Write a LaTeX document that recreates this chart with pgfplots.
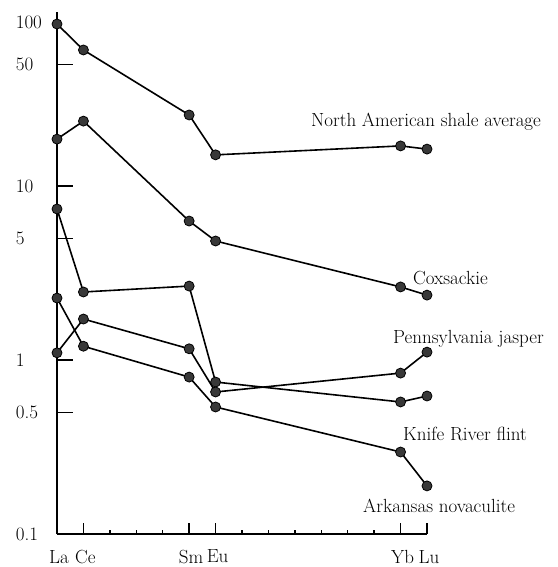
\documentclass[border=0pt]{standalone}
\usepackage{pgfplots}
\pgfplotsset{compat=1.18}
\newcommand{\lf}{\fontsize{19}{22}\selectfont}
\newcommand{\yl}[1]{\makebox[37.7pt][l]{#1}}
\begin{document}
\begin{tikzpicture}
% axis A: y ticks and labels (box mode, lines hidden)
\begin{axis}[
  at={(57pt,-534pt)}, anchor=south west,
  scale only axis, width=370pt, height=522pt,
  xmin=57, xmax=71, ymode=log, ymin=0.1, ymax=100,
  axis line style={draw=none},
  ytick pos=left, tick align=inside, clip=false,
  tick label style={font=\lf}, yminorticks=false,
  xtick=\empty,
  ytick={0.1,0.5,1,5,10,50},
  yticklabels={\yl{0.1},\yl{0.5},\yl{1},\yl{5},\yl{10},\yl{50}},
  extra y ticks={100},
  extra y tick labels={\yl{100}},
  extra y tick style={tick style={draw=none}, yticklabel style={yshift=-10pt}},
  major tick length=16pt,
  ytick style={line width=1.4pt, black},
  yticklabel style={inner sep=0pt, xshift=-3.3pt},
]
\end{axis}
% axis B: axis lines, x ticks and data
\begin{axis}[
  at={(57pt,-534pt)}, anchor=south west,
  scale only axis, width=370pt, height=522pt,
  xmin=57, xmax=71, ymode=log, ymin=0.1, ymax=100,
  axis lines*=left, tick align=inside, clip=false,
  tick label style={font=\lf}, yminorticks=false,
  axis line style={line width=2.4pt, black},
  ytick=\empty,
  xtick={57,58,62,63,70,71},
  xticklabels={La,Ce,Sm,Eu,Yb,Lu},
  minor xtick={59,60,61,64,65,66,67,68,69},
  major tick length=11pt, minor tick length=4pt,
  xtick style={line width=1.4pt, black},
  xticklabel style={yshift=-12.5pt, xshift=2pt},
  every axis plot/.style={black, line width=1.6pt, mark=*, mark size=5pt,
     mark options={fill=black!78, draw=black, line width=0.8pt, solid}},
  cycle list={{black}},
]
% North American shale average
\addplot coordinates {(57,85.3) (58,60.5) (62,25.6) (63,15.1) (70,17.0) (71,16.3)};
% Coxsackie
\addplot coordinates {(57,18.6) (58,23.6) (62,6.29) (63,4.83) (70,2.63) (71,2.36)};
% Knife River flint
\addplot coordinates {(57,7.38) (58,2.46) (62,2.66) (63,0.747) (70,0.574) (71,0.621)};
% Pennsylvania jasper
\addplot coordinates {(57,1.10) (58,1.72) (62,1.16) (63,0.655) (70,0.841) (71,1.11)};
% Arkansas novaculite
\addplot coordinates {(57,2.27) (58,1.20) (62,0.798) (63,0.537) (70,0.296) (71,0.189)};
\end{axis}
\node[anchor=base west, inner sep=0pt, font=\lf] at (311pt,-127pt) {North American shale average};
\node[anchor=base west, inner sep=0pt, font=\lf] at (413pt,-284pt) {Coxsackie};
\node[anchor=base west, inner sep=0pt, font=\lf] at (393pt,-343pt) {Pennsylvania jasper};
\node[anchor=base west, inner sep=0pt, font=\lf] at (403pt,-440pt) {Knife River flint};
\node[anchor=base west, inner sep=0pt, font=\lf] at (363pt,-512pt) {Arkansas novaculite};
\pgfresetboundingbox
\path[use as bounding box] (0,0) rectangle (557pt,-567pt);
\end{tikzpicture}
\end{document}
